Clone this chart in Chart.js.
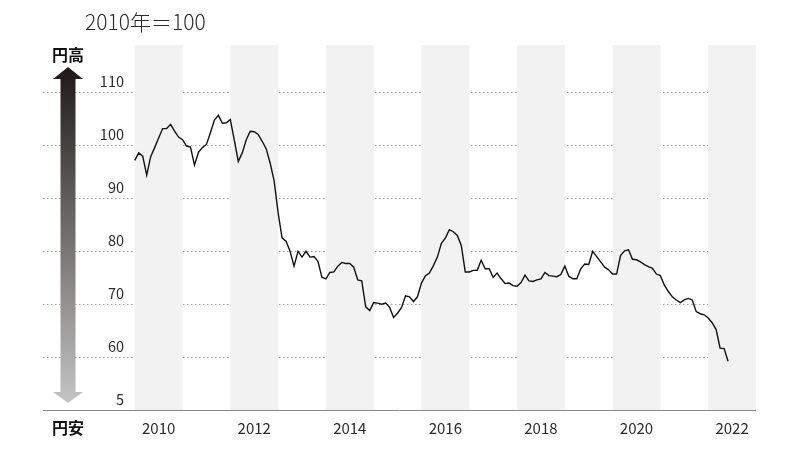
<!DOCTYPE html>
<html>
<head>
<meta charset="utf-8">
<script src="https://cdn.jsdelivr.net/npm/chart.js@4"></script>
<style>
  html, body { margin: 0; padding: 0; background: #fff; }
  #wrap { width: 800px; height: 454px; position: relative; }
</style>
</head>
<body>
<div id="wrap"><canvas id="chart"></canvas></div>
<script>
// 実質実効為替レート（月次, 2010年1月〜2022年6月）
const startYear = 2010;
const values = [
  97.2, 98.6, 98.0, 94.4, 97.9, 99.6, 101.4, 103.2, 103.2, 104.0, 102.7, 101.6,
  101.1, 99.9, 99.7, 96.3, 98.7, 99.6, 100.2, 102.4, 104.8, 105.7, 104.2, 104.3,
  104.9, 101.0, 97.0, 98.6, 101.1, 102.7, 102.6, 102.1, 100.8, 99.4, 96.7, 93.3,
  87.3, 82.5, 81.9, 80.0, 77.2, 80.0, 78.9, 80.0, 78.9, 79.0, 78.1, 75.1,
  74.8, 76.0, 76.1, 77.2, 77.9, 77.7, 77.7, 77.0, 74.6, 74.4, 69.5, 68.8,
  70.3, 70.2, 70.0, 70.2, 69.4, 67.5, 68.3, 69.4, 71.6, 71.4, 70.5, 71.4,
  74.0, 75.4, 75.9, 77.3, 78.9, 81.5, 82.5, 84.1, 83.7, 83.0, 81.1, 76.1,
  76.1, 76.4, 76.4, 78.3, 76.7, 76.7, 75.1, 75.9, 74.8, 73.9, 74.0, 73.5,
  73.4, 74.1, 75.5, 74.4, 74.3, 74.6, 74.8, 76.0, 75.4, 75.3, 75.2, 75.6,
  77.2, 75.3, 74.8, 74.8, 76.7, 77.6, 77.5, 80.0, 79.0, 78.0, 77.0, 76.5,
  75.7, 75.7, 79.2, 80.1, 80.3, 78.5, 78.4, 78.0, 77.5, 77.1, 76.8, 75.7,
  75.4, 73.6, 72.4, 71.4, 70.8, 70.3, 70.8, 71.1, 70.8, 68.6, 68.2, 68.0,
  67.4, 66.5, 65.2, 61.7, 61.6, 59.2
];
const labelYears = [2010, 2012, 2014, 2016, 2018, 2020, 2022];
const yTicks = [50, 60, 70, 80, 90, 100, 110];
const yTickLabels = ['5', '60', '70', '80', '90', '100', '110'];
const titleText = '2010年＝100';
const topLabel = '円高';
const bottomLabel = '円安';

const FONT = "'Noto Sans CJK JP', 'Noto Sans', sans-serif";
const points = values.map((v, i) => ({ x: startYear + i / 12, y: v }));

const decor = {
  id: 'decor',
  beforeDatasetsDraw(chart) {
    // 偶数年の帯
    const { ctx, chartArea, scales } = chart;
    ctx.save();
    ctx.fillStyle = '#f2f2f2';
    labelYears.forEach(y => {
      const x0 = scales.x.getPixelForValue(y);
      const x1 = scales.x.getPixelForValue(y + 1);
      ctx.fillRect(x0, chartArea.top, x1 - x0, chartArea.bottom - chartArea.top);
    });
    ctx.restore();
  },
  afterDraw(chart) {
    const { ctx, scales } = chart;
    ctx.save();
    // y labels
    ctx.fillStyle = '#2b2b2b';
    ctx.font = '400 14.5px ' + FONT;
    ctx.textAlign = 'right';
    ctx.textBaseline = 'middle';
    yTicks.forEach((v, i) => {
      ctx.fillText(yTickLabels[i], 124, scales.y.getPixelForValue(v) - 11);
    });

    // title
    ctx.font = '300 21px ' + FONT;
    ctx.textAlign = 'left';
    ctx.fillStyle = '#2b2b2b';
    ctx.fillText(titleText, 85, 22);

    // 円高 / 円安
    ctx.font = 'bold 16px ' + FONT;
    ctx.textAlign = 'center';
    ctx.fillStyle = '#111';
    ctx.fillText(topLabel, 68, 55);
    ctx.fillText(bottomLabel, 68, 428);

    // arrow
    const g = ctx.createLinearGradient(0, 67, 0, 403);
    g.addColorStop(0, '#1f1a18');
    g.addColorStop(1, '#c4c4c4');
    ctx.fillStyle = g;
    ctx.beginPath();
    ctx.moveTo(68, 67);
    ctx.lineTo(83, 79);
    ctx.lineTo(75.5, 79);
    ctx.lineTo(75.5, 392);
    ctx.lineTo(83, 392);
    ctx.lineTo(68, 403);
    ctx.lineTo(53, 392);
    ctx.lineTo(60.5, 392);
    ctx.lineTo(60.5, 79);
    ctx.lineTo(53, 79);
    ctx.closePath();
    ctx.fill();
    ctx.restore();
  }
};

new Chart(document.getElementById('chart'), {
  type: 'line',
  data: {
    datasets: [{
      data: points,
      borderColor: '#111',
      borderWidth: 1.4,
      pointRadius: 0,
      tension: 0,
      fill: false
    }]
  },
  options: {
    responsive: true,
    maintainAspectRatio: false,
    animation: false,
    layout: { padding: { left: 43, right: 45, top: 45, bottom: 0 } },
    plugins: { legend: { display: false }, tooltip: { enabled: false } },
    scales: {
      x: {
        type: 'linear',
        min: 2008.08,
        max: 2022.98,
        afterBuildTicks: axis => { axis.ticks = labelYears.map(y => ({ value: y + 0.5 })); },
        afterFit: axis => { axis.height = 44; },
        grid: { display: false, drawTicks: false },
        border: { display: true, color: '#888', width: 1 },
        ticks: {
          autoSkip: false,
          maxRotation: 0,
          padding: 9,
          color: '#2b2b2b',
          font: { family: FONT, size: 15, weight: 400 },
          callback: v => String(Math.round(v - 0.5))
        }
      },
      y: {
        min: 50,
        max: 119,
        afterBuildTicks: axis => { axis.ticks = yTicks.map(v => ({ value: v })); },
        afterFit: axis => { axis.width = 0; },
        grid: {
          drawTicks: false,
          color: c => c.tick && c.tick.value === 50 ? 'rgba(0,0,0,0)' : '#a0a0a0',
          lineWidth: 1
        },
        border: { display: false, dash: [1.5, 2.5] },
        ticks: { display: false }
      }
    }
  },
  plugins: [decor]
});
</script>
</body>
</html>
